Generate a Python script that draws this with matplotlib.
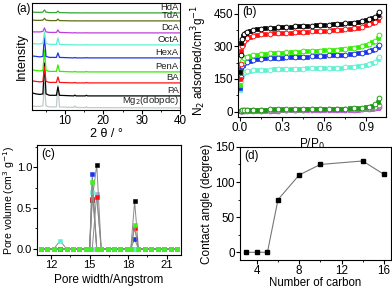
import matplotlib
matplotlib.use("Agg")
import matplotlib.pyplot as plt
from matplotlib.ticker import MultipleLocator

plt.rcParams['font.family'] = ['Liberation Sans', 'DejaVu Sans']
plt.rcParams['font.size'] = 8
plt.rcParams['axes.linewidth'] = 0.8
plt.rcParams['xtick.major.size'] = 2.6
plt.rcParams['ytick.major.size'] = 2.6
plt.rcParams['xtick.minor.size'] = 1.6
plt.rcParams['ytick.minor.size'] = 1.6
plt.rcParams['xtick.major.pad'] = 1.0
plt.rcParams['ytick.major.pad'] = 1.0

# ---------------- data (a) XRD ----------------
xrd_names = ["Mg$_2$(dobpdc)", "PA", "BA", "PenA", "HexA", "OctA", "DcA", "TdA", "HdA"]
xrd_colors = ["#c0cccc", "#000000", "#ff1010", "#33ee00", "#1a35e8", "#5ff0d0", "#bb40dd", "#5a7010", "#30a830"]
xrd_offsets = [2, 14, 27, 38, 52, 65, 77, 89, 97]
xrd_x = [1.5, 2.5, 3.5, 4.3, 4.7, 5.1, 6.0, 7.8, 8.2, 8.6, 12.3, 12.6, 12.9, 15.3, 15.6, 15.9, 40]
xrd_mg2 = [2, 1.5, 1.5, 2, 25, 2, 1, 1, 23, 1, 0.5, 2, 0.5, 0.3, 1.2, 0.3, 0]
xrd_pa = [3, 2, 1.5, 2, 33, 2, 0.6, 0.6, 9, 0.6, 0, 0.8, 0, 0, 0.6, 0, 0]
xrd_ba = [2, 1.5, 1, 1.5, 16, 1.5, 0.5, 0.5, 6, 0.5, 0, 0.5, 0, 0, 0.4, 0, 0]
xrd_pena = [2, 1.5, 1, 1.5, 22, 1.5, 0.5, 0.5, 7, 0.5, 0, 0.5, 0, 0, 0.4, 0, 0]
xrd_hexa = [2, 1.5, 1, 1.5, 21, 1.5, 0.5, 0.5, 5, 0.5, 0, 0.4, 0, 0, 0.3, 0, 0]
xrd_octa = [1.5, 1, 1, 1.5, 13, 1.5, 0.5, 0.5, 7, 0.5, 0, 0.3, 0, 0, 0.3, 0, 0]
xrd_dca = [1, 1, 1, 1.5, 5, 1, 0.5, 0.5, 3, 0.5, 0, 0.3, 0, 0, 0.2, 0, 0]
xrd_tda = [0.8, 0.6, 0.5, 0.8, 2.5, 0.8, 0.3, 0.3, 1.8, 0.3, 0, 0.2, 0, 0, 0.1, 0, 0]
xrd_hda = [0.8, 0.6, 0.5, 0.8, 3, 0.8, 0.3, 0.3, 1.8, 0.3, 0, 0.2, 0, 0, 0.1, 0, 0]
xrd_profiles = [xrd_mg2, xrd_pa, xrd_ba, xrd_pena, xrd_hexa, xrd_octa, xrd_dca, xrd_tda, xrd_hda]

# ---------------- data (b) N2 isotherms ----------------
P = [0.002, 0.005, 0.01, 0.015, 0.02, 0.03, 0.04, 0.05, 0.07, 0.09, 0.12, 0.15, 0.18, 0.21,
     0.24, 0.27, 0.30, 0.33, 0.36, 0.39, 0.42, 0.45, 0.48, 0.51, 0.54, 0.57, 0.60, 0.63,
     0.66, 0.69, 0.72, 0.75, 0.78, 0.81, 0.84, 0.87, 0.90, 0.92, 0.94, 0.96, 0.98, 0.99]
n2_pa = [180, 260, 315, 335, 345, 355, 360, 364, 369, 373, 377, 380, 382, 384, 386, 387, 388, 389,
         390, 391, 392, 393, 394, 395, 396, 397, 398, 399, 400, 401, 403, 405, 407, 409, 412, 415,
         420, 424, 429, 435, 443, 455]
n2_ba = [150, 220, 280, 300, 312, 325, 332, 337, 343, 347, 351, 354, 356, 358, 359, 360, 361, 362,
         363, 364, 365, 366, 367, 368, 369, 370, 371, 372, 373, 374, 376, 378, 380, 383, 386, 390,
         396, 400, 405, 412, 422, 432]
n2_pena = [120, 180, 220, 232, 238, 245, 249, 252, 256, 259, 262, 264, 266, 268, 269, 270, 271, 272,
           273, 274, 275, 276, 277, 278, 279, 280, 281, 282, 283, 284, 286, 288, 290, 293, 296, 300,
           307, 312, 318, 326, 338, 352]
n2_hexa = [110, 160, 195, 208, 215, 222, 227, 230, 234, 237, 240, 242, 244, 245, 246, 247, 248, 249,
           250, 251, 252, 253, 253, 254, 255, 256, 257, 258, 259, 260, 261, 262, 264, 266, 268, 271,
           275, 278, 282, 287, 295, 305]
n2_octa = [100, 140, 165, 172, 176, 180, 183, 185, 187, 189, 190, 191, 192, 193, 194, 194, 195, 195,
           196, 196, 197, 197, 198, 198, 198, 199, 199, 200, 200, 201, 202, 203, 204, 206, 208, 211,
           215, 219, 224, 230, 240, 252]
n2_dca = [1, 2, 2, 3, 3, 3, 4, 4, 4, 4, 5, 5, 5, 5, 5, 5, 6, 6, 6, 6, 6, 6, 6, 7, 7, 7, 7, 7, 7, 8,
          8, 8, 8, 9, 9, 10, 11, 12, 13, 15, 18, 22]
n2_tda = [2, 3, 4, 5, 5, 6, 6, 6, 7, 7, 7, 8, 8, 8, 8, 8, 9, 9, 9, 9, 9, 9, 10, 10, 10, 10, 10, 10,
          11, 11, 11, 11, 12, 12, 13, 13, 14, 15, 17, 19, 24, 30]
n2_hda = [2, 4, 5, 6, 6, 7, 7, 8, 8, 8, 9, 9, 9, 10, 10, 10, 10, 10, 11, 11, 11, 11, 11, 12, 12, 12,
          12, 13, 13, 13, 14, 14, 15, 16, 17, 18, 20, 23, 27, 33, 45, 62]
n2_series = [n2_octa, n2_hexa, n2_pena, n2_ba, n2_pa, n2_dca, n2_tda, n2_hda]
n2_colors = ["#5ff0d0", "#1a35e8", "#33ee00", "#ff1010", "#000000", "#bb40dd", "#8a8a8a", "#1e9a14"]

# ---------------- data (c) pore size distribution ----------------
pore_w = [11.2, 11.7, 12.2, 12.7, 13.2, 13.7, 14.2, 14.7, 15.0, 15.2, 15.55, 15.9, 16.4, 16.9,
          17.4, 17.9, 18.2, 18.5, 18.8, 19.3, 19.8, 20.3, 20.8, 21.3, 21.8]
pv_pa = [0, 0, 0, 0, 0, 0, 0, 0, 0, 0.60, 1.03, 0, 0, 0, 0, 0, 0, 0.58, 0, 0, 0, 0, 0, 0, 0]
pv_ba = [0, 0, 0, 0, 0, 0, 0, 0, 0, 0.61, 0.63, 0, 0, 0, 0, 0, 0, 0.26, 0, 0, 0, 0, 0, 0, 0]
pv_mg2 = [0, 0, 0, 0, 0, 0, 0, 0, 0, 0, 0.67, 0, 0, 0, 0, 0, 0, 0, 0, 0, 0, 0, 0, 0, 0]
pv_hexa = [0, 0, 0, 0, 0, 0, 0, 0, 0, 0.92, 0, 0, 0, 0, 0, 0, 0, 0.12, 0, 0, 0, 0, 0, 0, 0]
pv_octa = [0, 0, 0, 0.10, 0, 0, 0, 0, 0, 0.70, 0, 0, 0, 0, 0, 0, 0, 0, 0, 0, 0, 0, 0, 0, 0]
pv_pena = [0, 0, 0, 0, 0, 0, 0, 0, 0, 0.82, 0, 0, 0, 0, 0, 0, 0, 0.29, 0, 0, 0, 0, 0, 0, 0]
pv_series = [pv_mg2, pv_pa, pv_ba, pv_hexa, pv_octa, pv_pena]
pv_colors = ["#b0a8f0", "#000000", "#ff1010", "#1a35e8", "#5ff0d0", "#44ee22"]

# ---------------- data (d) contact angle ----------------
n_carbon = [3, 4, 5, 6, 8, 10, 14, 16]
contact = [0, 0, 0, 75, 110, 125, 130, 111]

TICK_FS = 8.0
LAB_FS = 8.5

fig = plt.figure(figsize=(3.92, 2.90), dpi=100)

# ---- (a)
axa = fig.add_axes([0.082, 0.621, 0.378, 0.369])
for name, col, off, prof in zip(xrd_names, xrd_colors, xrd_offsets, xrd_profiles):
    axa.plot(xrd_x, [off + v for v in prof], color=col, lw=0.9)
    axa.text(39.6, off + 0.5, name, ha='right', va='bottom', fontsize=6.8, color='#222222')
axa.set_xlim(1.5, 40)
axa.set_ylim(0, 107)
axa.set_yticks([])
axa.set_xticks([10, 20, 30, 40])
axa.xaxis.set_minor_locator(MultipleLocator(5))
axa.tick_params(axis='x', direction='out', labelsize=TICK_FS + 0.4)
axa.set_xlabel("2 θ / °", fontsize=LAB_FS + 0.5, labelpad=1)
axa.set_ylabel("Intensity", fontsize=LAB_FS + 0.5, labelpad=3)
axa.text(-0.01, 1.0, "(a)", transform=axa.transAxes, ha='right', va='top', fontsize=8.5)

# ---- (b)
axb = fig.add_axes([0.607, 0.597, 0.378, 0.390])
for ser, col in zip(n2_series, n2_colors):
    axb.plot(P, ser, ls='none', marker='s', ms=3.0, color=col, markevery=(0, 2), mew=0.5)
    axb.plot(P, ser, ls='none', marker='o', ms=3.4, mfc='white', mec=col, markevery=(1, 2), mew=0.7)
axb.set_xlim(-0.015, 1.04)
axb.set_ylim(-24, 495)
axb.set_xticks([0.0, 0.3, 0.6, 0.9])
axb.set_yticks([0, 150, 300, 450])
axb.xaxis.set_minor_locator(MultipleLocator(0.15))
axb.yaxis.set_minor_locator(MultipleLocator(75))
axb.tick_params(labelsize=TICK_FS + 0.4)
axb.set_xlabel("P/P$_0$", fontsize=LAB_FS, labelpad=2)
axb.set_ylabel("N$_2$ adsorbed/cm$^3$g$^{-1}$", fontsize=LAB_FS, labelpad=3)
axb.text(0.03, 0.98, "(b)", transform=axb.transAxes, ha='left', va='top', fontsize=8.5)

# ---- (c)
axc = fig.add_axes([0.0944, 0.121, 0.367, 0.379])
for ser, col in zip(pv_series, pv_colors):
    axc.plot(pore_w, ser, color='#8a8a8a', lw=0.7, marker='s', ms=3.2, mfc=col, mec=col, mew=0.4)
axc.set_xlim(10.9, 22.1)
axc.set_ylim(-0.073, 1.27)
axc.set_xticks([12, 15, 18, 21])
axc.set_yticks([0.0, 0.5, 1.0])
axc.xaxis.set_minor_locator(MultipleLocator(1.5))
axc.yaxis.set_minor_locator(MultipleLocator(0.25))
axc.tick_params(labelsize=TICK_FS)
axc.set_xlabel("Pore width/Angstrom", fontsize=LAB_FS, labelpad=3)
axc.set_ylabel("Pore volume (cm$^3$ g$^{-1}$)", fontsize=7.6)
axc.yaxis.set_label_coords(-0.14, 0.5)
axc.text(0.03, 0.97, "(c)", transform=axc.transAxes, ha='left', va='top', fontsize=8.5)

# ---- (d)
axd = fig.add_axes([0.612, 0.1034, 0.385, 0.390])
axd.plot(n_carbon, contact, color='#777777', lw=0.8, marker='s', ms=3.2, mfc='black', mec='black')
axd.set_xlim(2.4, 16.66)
axd.set_ylim(-11, 150)
axd.set_xticks([4, 8, 12, 16])
axd.set_yticks([0, 50, 100, 150])
axd.xaxis.set_minor_locator(MultipleLocator(2))
axd.yaxis.set_minor_locator(MultipleLocator(25))
axd.tick_params(labelsize=TICK_FS + 0.4)
axd.set_xlabel("Number of carbon", fontsize=8.3)
axd.xaxis.set_label_coords(0.5, -0.15)
axd.set_ylabel("Contact angle (degree)", fontsize=LAB_FS, labelpad=2)
axd.text(0.03, 0.97, "(d)", transform=axd.transAxes, ha='left', va='top', fontsize=8.5)

fig.savefig("out.png", dpi=100)
